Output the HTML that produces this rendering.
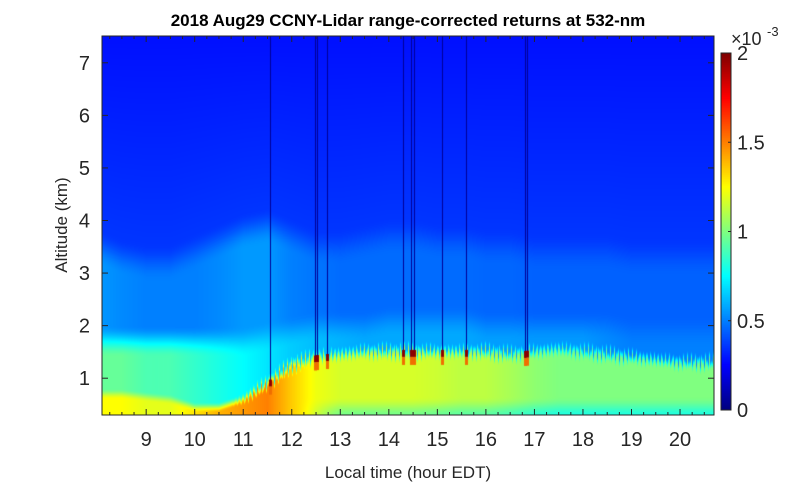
<!DOCTYPE html>
<html><head><meta charset="utf-8">
<style>
body{margin:0;background:#fff;width:791px;height:487px;overflow:hidden;position:relative;font-family:"Liberation Sans",Arial,sans-serif}
canvas{position:absolute}
svg{position:absolute;left:0;top:0}
</style></head>
<body>
<canvas id="hm" width="612" height="379" style="left:102px;top:36px"></canvas>
<canvas id="cb" width="10" height="357" style="left:721px;top:53px"></canvas>
<svg id="ax" width="791" height="487"></svg>
<script>
const times=[8,8.5,9,9.5,10,10.5,11,11.5,12,12.5,13,13.5,14,14.5,15,15.5,16,16.5,17,17.5,18,18.5,19,19.5,20,20.5];
const mlTop=[0.7,0.7,0.65,0.6,0.45,0.45,0.6,0.9,1.25,1.4,1.45,1.5,1.5,1.5,1.5,1.5,1.5,1.45,1.5,1.55,1.5,1.45,1.4,1.35,1.3,1.3];
const mlVal=[1.25,1.25,1.2,1.2,1.3,1.4,1.45,1.5,1.35,1.22,1.17,1.17,1.17,1.17,1.15,1.12,1.12,1.08,1.03,1.0,1.0,1.0,1.0,1.0,1.0,1.0];
const rlTop=[1.7,1.7,1.7,1.7,1.7,1.7,1.7,1.8,1.9,2.0,2.0,2.0,2.1,2.1,2.1,2.1,2.0,2.0,2.0,2.0,2.0,2.0,1.9,1.9,1.9,1.9];
const rlVal=[0.95,0.95,0.9,0.9,0.85,0.8,0.75,0.7,0.65,0.62,0.6,0.58,0.58,0.58,0.58,0.58,0.56,0.56,0.55,0.55,0.55,0.52,0.5,0.5,0.5,0.5];
const midTop=[3.5,3.3,3.2,3.2,3.4,3.6,3.8,3.9,3.7,3.5,3.5,3.6,3.7,3.7,3.6,3.6,3.5,3.5,3.4,3.4,3.4,3.4,3.3,3.3,3.3,3.3];
const midVal=[0.55,0.52,0.5,0.5,0.5,0.52,0.55,0.55,0.5,0.48,0.46,0.46,0.46,0.46,0.46,0.46,0.45,0.45,0.44,0.44,0.44,0.44,0.44,0.44,0.44,0.44];
const spikeTimes=[11.55,12.48,12.52,12.72,14.3,14.45,14.52,15.1,15.6,16.8,16.85];
const xTicks=[9,10,11,12,13,14,15,16,17,18,19,20];
const yTicks=[1,2,3,4,5,6,7];
const cTicks=[0,0.5,1,1.5,2];

const X0=102,X1=714,T0=8.09,T1=20.7,Y0=415,Y1=36,Z0=0.3,Z1=7.51;
const xs=t=>X0+(t-T0)/(T1-T0)*(X1-X0);
const ys=z=>Y0-(z-Z0)/(Z1-Z0)*(Y0-Y1);
function jet(v){v=Math.max(0,Math.min(1,v));const c=x=>Math.round(255*Math.max(0,Math.min(1,x)));
return [c(1.5-Math.abs(4*v-3)),c(1.5-Math.abs(4*v-2)),c(1.5-Math.abs(4*v-1))];}
function interp(arr,t){let i=Math.max(0,Math.min(times.length-2,Math.floor((t-times[0])/0.5)));
let f=Math.max(0,Math.min(1,(t-times[i])/(times[i+1]-times[i])));return arr[i]*(1-f)+arr[i+1]*f;}
function sstep(z,edge,w){let x=(z-edge)/w+0.5;x=Math.max(0,Math.min(1,x));return x*x*(3-2*x);}
function val(t,z){
 const tex=0.08*Math.sin(t*83)+0.06*Math.sin(t*151);
 const a=interp(mlTop,t)+tex*sstep(t,11,0.6),av=interp(mlVal,t),b=interp(rlTop,t),bv=interp(rlVal,t),c=interp(midTop,t),cv=interp(midVal,t);
 const up=0.36-0.08*(z-c)/(7.5-c);
 let v=av;
 v-=0.2*sstep(t,12.6,1.0)*(1-sstep(z,0.45,0.4));
 v=v+(bv-v)*sstep(z,a,0.2);
 v=v+(cv-v)*sstep(z,b,0.6);
 v=v+(up-v)*sstep(z,c,0.7);
 return v;
}
const cv=document.getElementById('hm'),ctx=cv.getContext('2d');
const img=ctx.createImageData(612,379);
for(let py=0;py<379;py++){const z=Z1-(py+0.5)/379*(Z1-Z0);
 for(let px=0;px<612;px++){const t=T0+(px+0.5)/612*(T1-T0);
  const [r,g,b]=jet(val(t,z)/2);const k=(py*612+px)*4;
  img.data[k]=r;img.data[k+1]=g;img.data[k+2]=b;img.data[k+3]=255;}}
ctx.putImageData(img,0,0);
spikeTimes.forEach(t=>{
 const x=Math.round(xs(t)-X0),top=ys(interp(mlTop,t))-Y1;
 ctx.fillStyle='rgb(0,0,150)';ctx.fillRect(x,0,1,top);
 ctx.fillStyle='rgb(140,0,0)';ctx.fillRect(x-1,top-2,3,7);
 ctx.fillStyle='rgb(240,110,0)';ctx.fillRect(x-1,top+5,3,8);
});
const cb=document.getElementById('cb').getContext('2d');
for(let i=0;i<357;i++){const [r,g,b]=jet(1-i/356);cb.fillStyle=`rgb(${r},${g},${b})`;cb.fillRect(0,i,10,1);}

const svg=document.getElementById('ax');const NS='http://www.w3.org/2000/svg';
function el(tag,attrs,txt){const e=document.createElementNS(NS,tag);for(const k in attrs)e.setAttribute(k,attrs[k]);if(txt!==undefined)e.textContent=txt;svg.appendChild(e);return e;}
let e=el('rect',{x:X0,y:Y1,width:X1-X0,height:Y0-Y1,fill:'none',stroke:'#262626','stroke-width':1});


for(let t=8.25;t<20.7;t+=0.25){const x=xs(t),major=Math.abs(t-Math.round(t))<0.01,L=major?6:3;
 el('line',{x1:x,x2:x,y1:Y0,y2:Y0-L,stroke:'#262626'});el('line',{x1:x,x2:x,y1:Y1,y2:Y1+L,stroke:'#262626'});}
xTicks.forEach(t=>{e=el('text',{x:xs(t),y:446,'font-size':20,'text-anchor':'middle',fill:'#262626'},t);
 
 });
yTicks.forEach(z=>{const y=ys(z);el('line',{x1:X0,x2:X0+6,y1:y,y2:y,stroke:'#262626'});el('line',{x1:X1,x2:X1-6,y1:y,y2:y,stroke:'#262626'});
 e=el('text',{x:90,y:y+7,'font-size':20,'text-anchor':'end',fill:'#262626'},z);
 
 });
e=el('rect',{x:721,y:53,width:10,height:357,fill:'none',stroke:'#262626'});


cTicks.forEach(c=>{const y=410-c/2*357;el('line',{x1:731,x2:728,y1:y,y2:y,stroke:'#262626'});
 e=el('text',{x:737,y:y+7,'font-size':20,fill:'#262626'},c);
 
 });
e=el('text',{x:731,y:45,'font-size':18,fill:'#262626'},'×10');


el('text',{x:767,y:36,'font-size':13,fill:'#262626'},'-3');
e=el('text',{x:408,y:26,'font-size':17,'font-weight':'bold','text-anchor':'middle',fill:'#000'},'2018 Aug29 CCNY-Lidar range-corrected returns at 532-nm');


e=el('text',{x:408,y:478,'font-size':17,'text-anchor':'middle',fill:'#262626'},'Local time (hour EDT)');


e=el('text',{x:0,y:0,'font-size':17,'text-anchor':'middle',fill:'#262626',transform:'translate(67,225) rotate(-90)'},'Altitude (km)');


</script>
</body></html>
